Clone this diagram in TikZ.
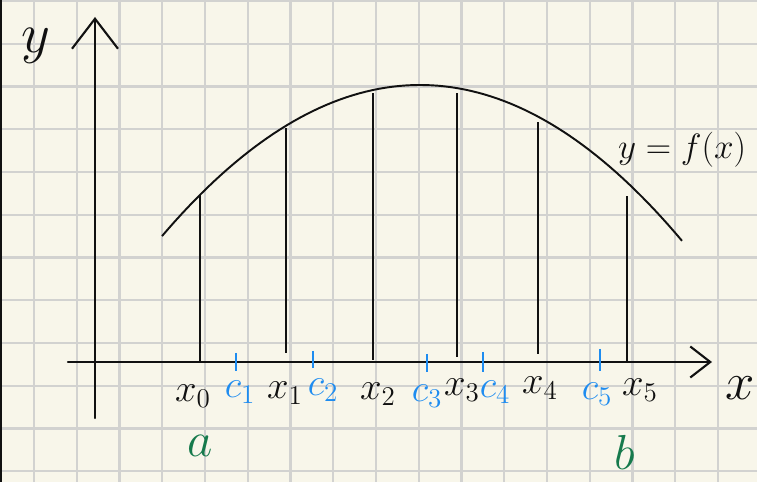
\RequirePackage{fix-cm}
\documentclass[tikz,border=0pt]{standalone}
\usetikzlibrary{arrows.meta}
\definecolor{paperfill}{HTML}{F8F6EA}
\definecolor{gridgray}{HTML}{D2D2D0}
\definecolor{inkblack}{HTML}{111111}
\definecolor{inkblue}{HTML}{1E8CF0}
\definecolor{inkgreen}{HTML}{167A4C}
\tikzset{
  gridline/.style={
    draw=gridgray,
    line width=1.3pt
  },
  axisline/.style={
    draw=inkblack,
    line width=1.2pt,
    line cap=round
  },
  curveline/.style={
    draw=inkblack,
    line width=1.1pt
  },
  ordinate/.style={
    draw=inkblack,
    line width=1.1pt
  },
  sampletick/.style={
    draw=inkblue,
    line width=1.0pt
  },
  xlabel/.style={
    text=inkblack,
    font=\fontsize{22}{26}\selectfont,
    inner sep=0pt
  },
  clabel/.style={
    xlabel,
    text=inkblue
  },
  endlabel/.style={
    xlabel,
    text=inkgreen,
    font=\fontsize{28}{32}\selectfont
  }
}
\begin{document}
\begin{tikzpicture}[x=0.02cm, y=-0.02cm]

% Paper and grid.
\useasboundingbox (0,0) rectangle (757,482);
\fill[paperfill] (0,0) rectangle (757,482);
\foreach \gx in {0,...,17}
  \draw[gridline] ({34+42.75*\gx},0) -- ({34+42.75*\gx},482);
\foreach \gy in {0,...,11}
  \draw[gridline] (0,{1+42.75*\gy}) -- (757,{1+42.75*\gy});
\draw[inkblack, line width=1.2pt] (1,0) -- (1,482);

% Axes.
\coordinate (yfoot) at (95,418);
\coordinate (ytip) at (95,17);
\coordinate (xfoot) at (68,362);
\coordinate (xtip) at (712,362);
\draw[axisline, -{Straight Barb[length=6mm, width=9.2mm]}] (yfoot) -- (ytip);
\draw[axisline, -{Straight Barb[length=4mm, width=6.2mm]}] (xfoot) -- (xtip);

% Curve y = f(x).
\draw[curveline] plot[domain=162:682, samples=80]
  (\x, {85+22.7*((\x-420)/100)^2});

% Ordinates at x_0 ... x_5.
\foreach \px/\ptop/\pbot [count=\i from 0] in
  {200/195/362, 286/128/353, 373/93/360, 457/93/357, 538/122/354, 627/196/363} {
  \coordinate (top\i) at (\px,\ptop);
  \coordinate (bot\i) at (\px,\pbot);
  \draw[ordinate] (bot\i) -- (top\i);
}

% Sample points c_1 ... c_5.
\foreach \cx/\ctop/\cbot [count=\i] in
  {236/353/371, 313/351/368, 427/354/372, 483/352/372, 600/349/371} {
  \coordinate (ctop\i) at (\cx,\ctop);
  \coordinate (cbot\i) at (\cx,\cbot);
  \draw[sampletick] (ctop\i) -- (cbot\i);
}

% Labels.
\node[xlabel] (lx0) at (193,396) {$x_0$};
\node[xlabel] (lx1) at (285,393) {$x_1$};
\node[xlabel] (lx2) at (378,394) {$x_2$};
\node[xlabel] (lx3) at (462,390) {$x_3$};
\node[xlabel] (lx4) at (540,388) {$x_4$};
\node[xlabel] (lx5) at (640,390) {$x_5$};
\node[clabel] (lc1) at (240,392) {$c_1$};
\node[clabel] (lc2) at (323,390) {$c_2$};
\node[clabel] (lc3) at (427,396) {$c_3$};
\node[clabel] (lc4) at (495,392) {$c_4$};
\node[clabel] (lc5) at (597,394) {$c_5$};
\node[endlabel] (la) at (200,446) {$a$};
\node[endlabel] (lb) at (625,452) {$b$};
\node[xlabel, font=\fontsize{30}{34}\selectfont] (lxaxis) at (740,388) {$x$};
\node[xlabel, font=\fontsize{32}{36}\selectfont] (lyaxis) at (36,46) {$y$};
\node[xlabel, font=\fontsize{20}{24}\selectfont] (lcurve) at (682,150) {$y=f(x)$};

\end{tikzpicture}
\end{document}
